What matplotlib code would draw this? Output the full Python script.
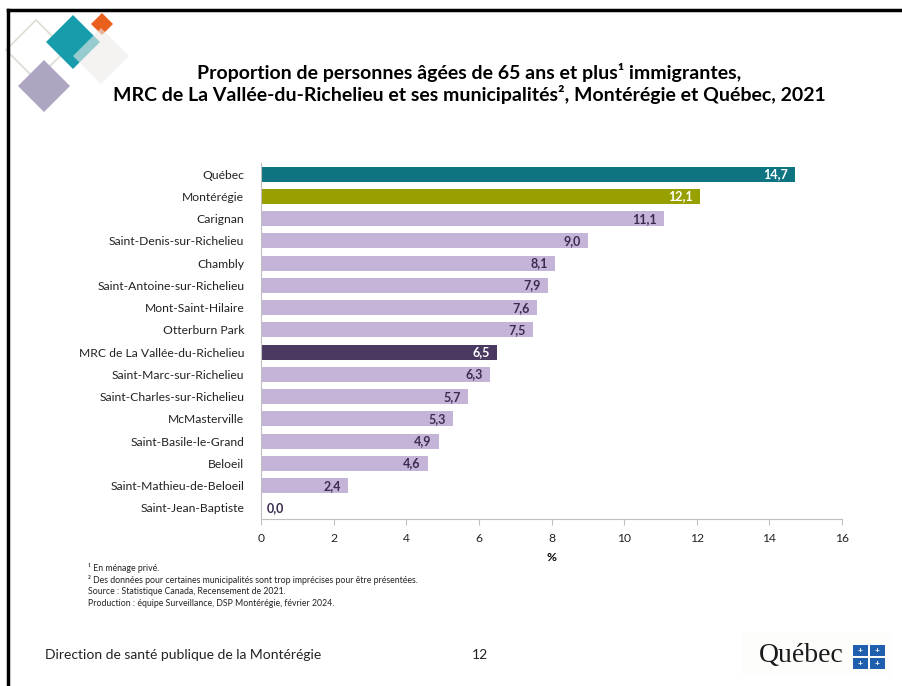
import matplotlib.pyplot as plt
from matplotlib.patches import Polygon, Rectangle

plt.rcParams['font.family'] = ['Lato', 'DejaVu Sans']

# data
labels = ['Québec', 'Montérégie', 'Carignan', 'Saint-Denis-sur-Richelieu', 'Chambly',
          'Saint-Antoine-sur-Richelieu', 'Mont-Saint-Hilaire', 'Otterburn Park',
          'MRC de La Vallée-du-Richelieu', 'Saint-Marc-sur-Richelieu',
          'Saint-Charles-sur-Richelieu', 'McMasterville', 'Saint-Basile-le-Grand',
          'Beloeil', 'Saint-Mathieu-de-Beloeil', 'Saint-Jean-Baptiste']
values = [14.7, 12.1, 11.1, 9.0, 8.1, 7.9, 7.6, 7.5, 6.5, 6.3, 5.7, 5.3, 4.9, 4.6, 2.4, 0.0]
xticks = [0, 2, 4, 6, 8, 10, 12, 14, 16]

footnotes = ['¹ En ménage privé.',
             '² Des données pour certaines municipalités sont trop imprécises pour être présentées.',
             'Source : Statistique Canada, Recensement de 2021.',
             'Production : équipe Surveillance, DSP Montérégie, février 2024.']

W, H = 902, 686
fig = plt.figure(figsize=(W / 100, H / 100), dpi=100)


def px(x, y):
    return x / W, 1 - y / H


# slide border
fig.add_artist(plt.Line2D([px(8, 0)[0], px(8, 0)[0]], [px(0, 10)[1], 0], color='black', lw=2.5))
fig.add_artist(plt.Line2D([px(8, 0)[0], 1], [px(0, 10)[1], px(0, 10)[1]], color='black', lw=2.5))


# logo diamonds
def diamond(cx, cy, r, **kw):
    pts = [px(cx, cy - r), px(cx + r, cy), px(cx, cy + r), px(cx - r, cy)]
    fig.add_artist(Polygon(pts, closed=True, transform=fig.transFigure, **kw))


diamond(36, 50, 30, facecolor='none', edgecolor='#D8DFD2', lw=1.2)
diamond(73, 42, 27, facecolor='#169CAA', edgecolor='none')
diamond(102, 24, 11, facecolor='#E8601C', edgecolor='none')
diamond(101, 56, 28, facecolor='#EEEBE8', edgecolor='none', alpha=0.6)
diamond(44, 86, 26, facecolor='#ADA5C2', edgecolor='none')

# title
fig.text(px(469, 0)[0], px(0, 72)[1], 'Proportion de personnes âgées de 65 ans et plus¹ immigrantes,',
         ha='center', va='center', fontsize=14, fontweight='bold', color='black')
fig.text(px(469, 0)[0], px(0, 95)[1],
         'MRC de La Vallée-du-Richelieu et ses municipalités², Montérégie et Québec, 2021',
         ha='center', va='center', fontsize=14, fontweight='bold', color='black')

# chart
ax = fig.add_axes([261 / W, 1 - 519 / H, (842 - 261) / W, (519 - 163) / H])
colors = []
text_colors = []
for lab in labels:
    if lab == 'Québec':
        colors.append('#0E7482'); text_colors.append('white')
    elif lab == 'Montérégie':
        colors.append('#98A000'); text_colors.append('white')
    elif lab.startswith('MRC'):
        colors.append('#4A3A62'); text_colors.append('white')
    else:
        colors.append('#C4B5D8'); text_colors.append('#3B2B50')

y = list(range(len(labels)))
ax.barh(y, values, height=0.68, color=colors)
for i, v in enumerate(values):
    s = f'{v:.1f}'.replace('.', ',')
    if v > 1:
        ax.text(v - 0.2, i, s, ha='right', va='center', fontsize=9, fontweight='bold',
                color=text_colors[i])
    else:
        ax.text(v + 0.15, i, s, ha='left', va='center', fontsize=9, fontweight='bold',
                color='#3B2B50')

ax.set_ylim(len(labels) - 0.5, -0.5)
ax.set_xlim(0, 16)
ax.set_yticks(y)
ax.set_yticklabels(labels, fontsize=8.7, color='#222222')
ax.set_xticks(xticks)
ax.set_xticklabels([str(t) for t in xticks], fontsize=8.7, color='#222222')
ax.tick_params(axis='y', length=0, pad=12)
ax.tick_params(axis='x', length=4, color='#BFBFBF', pad=6)
for side in ['top', 'right']:
    ax.spines[side].set_visible(False)
for side in ['left', 'bottom']:
    ax.spines[side].set_color('#BFBFBF')
ax.set_xlabel('%', fontsize=8.7, fontweight='bold', labelpad=6)

# footnotes
for i, t in enumerate(footnotes):
    fig.text(px(88, 0)[0], px(0, 568 + i * 12)[1], t, ha='left', va='center', fontsize=6.3,
             color='#222222')

# footer
fig.text(px(45, 0)[0], px(0, 655)[1], 'Direction de santé publique de la Montérégie',
         ha='left', va='center', fontsize=10, color='#222222')
fig.text(px(480, 0)[0], px(0, 655)[1], '12', ha='center', va='center', fontsize=10, color='#222222')

# Québec logo
fig.add_artist(Rectangle(px(742, 677), 150 / W, 45 / H, transform=fig.transFigure,
                         facecolor='#FDFDFC', edgecolor='none'))
fig.text(px(801, 0)[0], px(0, 656)[1], 'Québec', ha='center', va='center', fontsize=20,
         family=['Liberation Serif', 'DejaVu Serif'], color='#1A1A1A')
for bx in (853, 870):
    for by in (645, 658):
        fig.add_artist(Rectangle(px(bx, by + 11), 15 / W, 11 / H, transform=fig.transFigure,
                                 facecolor='#1F5FAD', edgecolor='none'))
        fig.text(px(bx + 7.5, 0)[0], px(0, by + 5.5)[1], '+', ha='center', va='center',
                 fontsize=6, color='white', fontweight='bold')

fig.savefig('out.png', dpi=100)
